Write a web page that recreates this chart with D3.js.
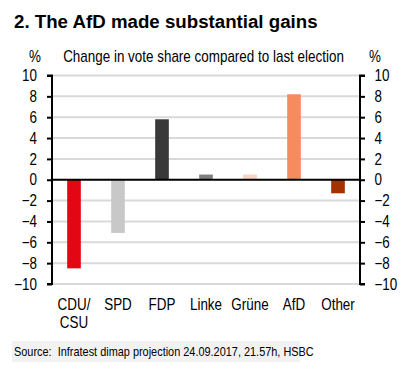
<!DOCTYPE html>
<html><head><meta charset="utf-8">
<script src="https://cdn.jsdelivr.net/npm/d3@7"></script>
<style>
body{margin:0;background:#fff;}
svg{display:block;}
</style></head>
<body><svg id="c" width="407" height="370"></svg>
<script>
const categories = ["CDU/\nCSU","SPD","FDP","Linke","Grüne","AfD","Other"];
const values = [-8.5,-5.1,5.8,0.5,0.5,8.2,-1.3];
const colors = ["#e30613","#c8c8c8","#393939","#7f7f7f","#fbd3c3","#f58b5e","#a33200"];
const yTicks = [10,8,6,4,2,0,-2,-4,-6,-8,-10];

const svg = d3.select("#c");
const font = "'Liberation Sans',Arial,sans-serif";
const fs = 16, sx = 0.84;
const pLeft = 52, pRight = 360, pTop = 75.5, pBottom = 284;

const x = d3.scaleBand().domain(categories).range([pLeft, pRight]).paddingInner(0.69).paddingOuter(0.345);
const y = d3.scaleLinear().domain([-10,10]).range([pBottom, pTop]);

function ntext(g, px, py, str, anchor, size){
  return g.append("text").attr("transform",`translate(${px},${py}) scale(${sx},1)`)
    .attr("text-anchor",anchor||"start").attr("font-family",font).attr("font-size",size||fs).attr("fill","#000").text(str);
}

svg.append("text").attr("x",14).attr("y",28).attr("font-family",font)
  .attr("font-weight","bold").attr("font-size",18.7).attr("fill","#000").text("2. The AfD made substantial gains");
ntext(svg,203.5,61.5,"Change in vote share compared to last election","middle");
ntext(svg,35,61.5,"%","middle");
ntext(svg,375,61.5,"%","middle");

// gridlines
svg.append("g").selectAll("line").data(yTicks.filter(d=>d!==0)).join("line")
  .attr("x1",pLeft+1).attr("x2",pRight-1).attr("y1",d=>y(d)).attr("y2",d=>y(d))
  .attr("stroke","#d9d9d9").attr("stroke-width",2);

// bars
svg.append("g").selectAll("rect").data(values).join("rect")
  .attr("x",(d,i)=>x(categories[i])).attr("width",x.bandwidth())
  .attr("y",d=>y(Math.max(0,d))).attr("height",d=>Math.abs(y(d)-y(0)))
  .attr("fill",(d,i)=>colors[i]);

// zero line
svg.append("line").attr("x1",pLeft).attr("x2",pRight).attr("y1",y(0)).attr("y2",y(0)).attr("stroke","#000").attr("stroke-width",2);

// axes
const la = svg.append("g").attr("transform",`translate(${pLeft},0)`)
  .call(d3.axisLeft(y).tickValues(yTicks).tickSize(5).tickPadding(3).tickFormat(d3.format("d")));
const ra = svg.append("g").attr("transform",`translate(${pRight},0)`)
  .call(d3.axisRight(y).tickValues(yTicks).tickSize(5).tickPadding(3).tickFormat(d3.format("d")));
[la,ra].forEach(a=>{
  a.select(".domain").attr("stroke","#000").attr("stroke-width",2).attr("d", a===la ? `M-5,${pTop}H0V${pBottom}H-5` : `M5,${pTop}H0V${pBottom}H5`);
  a.selectAll(".tick line").attr("stroke","#000").attr("stroke-width",2);
  a.selectAll("text").attr("font-family",font).attr("font-size",fs).attr("fill","#000");
});
la.selectAll("text").attr("x",null).attr("transform",`translate(-15,0) scale(${sx},1)`);
ra.selectAll("text").attr("x",null).attr("transform",`translate(14.5,0) scale(${sx},1)`);

// x labels
const xl = svg.append("g").selectAll("text").data(categories).join("text")
  .attr("transform",d=>`translate(${x(d)+x.bandwidth()/2},310) scale(${sx},1)`).attr("text-anchor","middle")
  .attr("font-family",font).attr("font-size",fs).attr("fill","#000");
xl.each(function(d){
  const t=d3.select(this);
  d.split("\n").forEach((s,i)=>t.append("tspan").attr("x",0).attr("dy",i?18.5:0).text(s));
});

// source
svg.append("rect").attr("x",12).attr("y",341).attr("width",288).attr("height",21).attr("fill","#f2f2f2");
ntext(svg,14,356,"Source:  Infratest dimap projection 24.09.2017, 21.57h, HSBC","start",13).attr("xml:space","preserve");
</script></body></html>
